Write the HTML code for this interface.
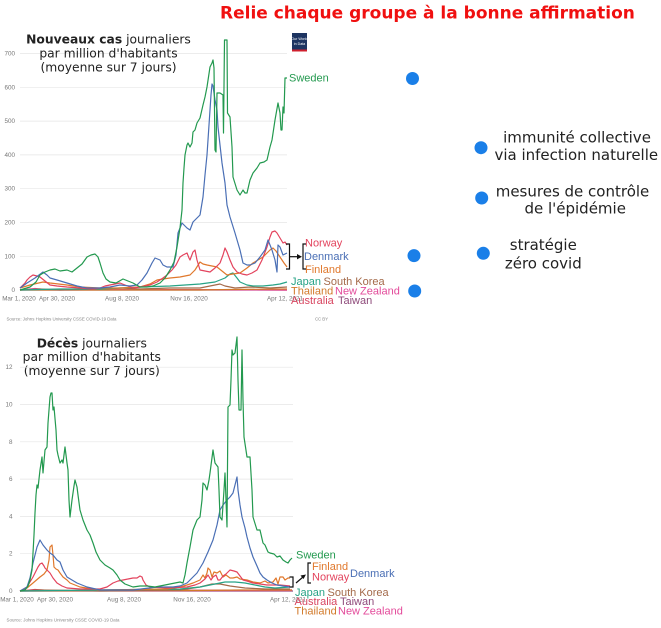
<!DOCTYPE html>
<html><head><meta charset="utf-8"><style>
html,body{margin:0;padding:0;background:#fff;}
svg{display:block;}
.tk{font-family:"Liberation Sans",sans-serif;font-size:6.3px;fill:#777;}
.src{font-family:"Liberation Sans",sans-serif;font-size:4.4px;fill:#888;}
.lb{font-family:"Liberation Sans",sans-serif;font-size:11px;}
.tt{font-family:"DejaVu Sans","Liberation Sans",sans-serif;font-size:12.3px;fill:#222;}
.rt{font-family:"DejaVu Sans","Liberation Sans",sans-serif;font-size:15px;fill:#222;}
.ln{fill:none;stroke-width:1.2;stroke-linejoin:round;}
</style></head><body>
<svg width="661" height="628" viewBox="0 0 661 628" xmlns="http://www.w3.org/2000/svg">
<rect width="661" height="628" fill="#fff"/>
<text x="220" y="18.5" font-family="DejaVu Sans, Liberation Sans, sans-serif" font-weight="bold" font-size="17" fill="#f01010">Relie chaque groupe à la bonne affirmation</text>

<!-- TOP CHART grid -->
<g stroke="#e6e6e6" stroke-width="0.7">
<line x1="20" y1="53.5" x2="287" y2="53.5"/>
<line x1="20" y1="87.3" x2="287" y2="87.3"/>
<line x1="20" y1="121.1" x2="287" y2="121.1"/>
<line x1="20" y1="154.9" x2="287" y2="154.9"/>
<line x1="20" y1="188.7" x2="287" y2="188.7"/>
<line x1="20" y1="222.5" x2="287" y2="222.5"/>
<line x1="20" y1="256.3" x2="287" y2="256.3"/>
</g>
<line x1="20" y1="290" x2="287" y2="290" stroke="#bbb" stroke-width="0.7"/>
<g class="tk" text-anchor="end">
<text x="15" y="55.5">700</text><text x="15" y="89.3">600</text><text x="15" y="123.1">500</text>
<text x="15" y="156.9">400</text><text x="15" y="190.7">300</text><text x="15" y="224.5">200</text>
<text x="15" y="258.3">100</text><text x="15" y="292">0</text>
</g>
<g class="tk" text-anchor="middle">
<text x="19" y="300.5">Mar 1, 2020</text><text x="57" y="300.5">Apr 30, 2020</text>
<text x="122" y="300.5">Aug 8, 2020</text><text x="189" y="300.5">Nov 16, 2020</text>
<text x="285" y="300.5">Apr 12, 2021</text>
</g>
<text class="src" x="6.5" y="320.5" textLength="110">Source: Johns Hopkins University CSSE COVID-19 Data</text>
<text class="src" x="315" y="320.5" textLength="13">CC BY</text>

<!-- OWID logo -->
<rect x="292" y="33" width="15" height="18.5" fill="#1d3461"/>
<rect x="292" y="49.5" width="15" height="2" fill="#d0202e"/>
<text x="299.5" y="40" font-family="Liberation Sans,sans-serif" font-size="3.6" fill="#fff" text-anchor="middle">Our World</text>
<text x="299.5" y="45" font-family="Liberation Sans,sans-serif" font-size="3.6" fill="#fff" text-anchor="middle">in Data</text>

<!-- top small series -->
<polyline class="ln" stroke="#8e4a7a" points="20,290 287,290"/>
<polyline class="ln" stroke="#d8445f" points="20,290 80,289 100,288.5 120,289.5 287,290"/>
<polyline class="ln" stroke="#e34a9a" points="20,290 35,288.5 45,289.5 287,290"/>
<polyline class="ln" stroke="#d27a2a" points="20,290 200,290 230,289.5 287,289"/>
<polyline class="ln" stroke="#a46a4a" points="20,290 40,289 60,290 100,289 120,288 140,289 170,288 200,288 215,285 220,284 225,286 235,288 250,287 270,288 287,287"/>
<polyline class="ln" stroke="#27a386" points="20,290 60,289 100,289 140,287 170,286 200,284 215,282 225,278 230,274 233,273 237,278 240,282 247,285 253,286 263,286 273,285 280,284 287,282"/>
<!-- Finland -->
<polyline class="ln" stroke="#e0782c" points="20,288 30,285 43,282 50,283 67,285 80,287 100,288 120,288 140,287 150,284 157,280 163,279 170,278 180,277 190,275 195,270 200,262 203,264 207,265 212,266 217,267 222,271 227,275 233,274 240,273 247,268 253,263 258,260 263,257 267,253 270,250 273,248 276,251 280,257 284,263 287,267"/>
<!-- Norway -->
<polyline class="ln" stroke="#e3435d" points="20,288 25,283 27,280 30,277 33,275 37,276 40,277 45,281 50,285 57,286 67,287 80,288 93,289 100,288 105,286 110,285 115,284 120,283 125,285 133,288 140,287 150,285 157,282 163,278 167,275 172,270 176,265 180,257 183,255 187,253 189,258 190,260 193,252 195,250 197,260 200,270 205,271 210,272 215,268 220,263 223,255 225,248 227,252 230,260 233,267 237,272 242,274 247,275 252,273 257,270 262,260 267,247 270,237 272,232 275,231 277,233 280,238 283,243 285,242 287,245"/>
<!-- Denmark -->
<polyline class="ln" stroke="#4a6fb5" points="20,288 27,283 35,278 43,272 47,275 50,278 57,280 67,283 77,286 87,288 100,288 110,287 120,285 130,286 137,285 142,280 147,273 152,263 155,258 160,260 163,265 167,267 173,267 176,255 178,233 182,223 187,228 190,230 193,222 197,218 200,215 203,197 205,175 207,155 209,125 211,95 212,84 213,86 215,100 217,110 218,127 220,145 222,163 225,183 227,205 230,217 235,233 240,250 243,263 247,265 250,265 255,263 260,257 265,250 268,240 270,245 272,250 275,260 277,272 278,245 280,247 283,255 287,253"/>
<!-- Sweden -->
<polyline class="ln" stroke="#23994f" points="20,290 30,287 36,282 40,275 45,272 50,270 55,269 60,271 67,270 72,272 77,268 82,264 87,257 91,255 95,254 97,256 98,257 100,263 103,273 106,279 110,282 116,283 123,279 128,281 133,283 140,287 147,287 153,286 160,283 165,278 170,270 174,262 177,247 180,228 182,210 183,183 184,168 185,155 187,145 188,143 190,147 192,143 193,132 195,130 197,123 200,118 203,105 205,97 207,87 210,67 212,63 213,60 214,68 215,150 216,152 217,93 220,93 223,95 223.5,133 224.5,40 227,40 227.5,113 230,117 232,147 233,177 237,190 240,195 243,190 245,193 247,193 250,180 253,173 257,168 260,163 264,162 267,160 270,147 272,140 275,120 278,103 280,113 281,130 282,130 283,107 284,113 285,78 287,78"/>

<!-- top labels -->
<text class="lb" x="289" y="81.5" fill="#23994f">Sweden</text>
<text class="lb" x="305" y="246.5" fill="#e3435d">Norway</text>
<text class="lb" x="304" y="260" fill="#4a6fb5">Denmark</text>
<text class="lb" x="305" y="273" fill="#e0782c">Finland</text>
<text class="lb" x="291" y="285" fill="#27a386">Japan</text>
<text class="lb" x="323.5" y="285" fill="#a46a4a">South Korea</text>
<text class="lb" x="291" y="294.5" fill="#d27a2a">Thailand</text>
<text class="lb" x="335" y="294.5" fill="#e34a9a">New Zealand</text>
<text class="lb" x="291" y="304" fill="#d8445f">Australia</text>
<text class="lb" x="338" y="304" fill="#8e4a7a">Taiwan</text>
<g fill="none" stroke="#111" stroke-width="1.2">
<path d="M286,244 H289.5 V269 H286"/>
<line x1="290" y1="256.7" x2="299" y2="256.7"/>
<path d="M306,244 H303 V269 H306"/>
</g>
<path d="M302,256.7 L297,254 L297,259.4 Z" fill="#111"/>

<!-- BOTTOM CHART -->
<text class="tt" x="91.8" y="347.3" text-anchor="middle"><tspan font-weight="bold">Décès</tspan> journaliers</text>
<text class="tt" x="91.8" y="361" text-anchor="middle">par million d'habitants</text>
<text class="tt" x="91.8" y="375" text-anchor="middle">(moyenne sur 7 jours)</text>
<text class="tt" x="108.5" y="43.3" text-anchor="middle"><tspan font-weight="bold">Nouveaux cas</tspan> journaliers</text>
<text class="tt" x="108.5" y="57.5" text-anchor="middle">par million d'habitants</text>
<text class="tt" x="108.5" y="71.7" text-anchor="middle">(moyenne sur 7 jours)</text>

<g stroke="#e6e6e6" stroke-width="0.7">
<line x1="20" y1="367.2" x2="293" y2="367.2"/>
<line x1="20" y1="404.5" x2="293" y2="404.5"/>
<line x1="20" y1="441.8" x2="293" y2="441.8"/>
<line x1="20" y1="479.1" x2="293" y2="479.1"/>
<line x1="20" y1="516.4" x2="293" y2="516.4"/>
<line x1="20" y1="553.7" x2="293" y2="553.7"/>
</g>
<line x1="20" y1="591" x2="293" y2="591" stroke="#bbb" stroke-width="0.7"/>
<g class="tk" text-anchor="end">
<text x="12.5" y="369.2">12</text><text x="12.5" y="406.5">10</text><text x="12.5" y="443.8">8</text>
<text x="12.5" y="481.1">6</text><text x="12.5" y="518.4">4</text><text x="12.5" y="555.7">2</text>
<text x="12.5" y="593">0</text>
</g>
<g class="tk" text-anchor="middle">
<text x="17" y="601.5">Mar 1, 2020</text><text x="55" y="601.5">Apr 30, 2020</text>
<text x="124" y="601.5">Aug 8, 2020</text><text x="192" y="601.5">Nov 16, 2020</text>
<text x="288" y="601.5">Apr 12, 2021</text>
</g>
<text class="src" x="6.5" y="621.5" textLength="113">Source: Johns Hopkins University CSSE COVID-19 Data</text>

<polyline class="ln" stroke="#8e4a7a" points="20,591 293,591"/>
<polyline class="ln" stroke="#e34a9a" points="20,591 292,590.5"/>
<polyline class="ln" stroke="#d8445f" points="20,591 35,589.5 50,590.5 292,590"/>
<polyline class="ln" stroke="#d27a2a" points="20,591 200,590.5 240,590 292,590"/>
<polyline class="ln" stroke="#a46a4a" points="20,591 40,590 100,591 180,590 200,587 212,584 220,584 230,586 245,588 265,589 290,589"/>
<polyline class="ln" stroke="#27a386" points="20,591 100,590 180,589 200,587 215,584 225,582 235,582 245,583 255,585 265,587 275,588 290,587"/>
<!-- Finland -->
<polyline class="ln" stroke="#e0782c" points="20,591 27,588 33,583 40,577 44,574 47,570 49,560 50,547 52,545 53,555 54,567 56,569 58,570 60,573 63,577 67,580 70,583 75,585 80,587 100,590 167,589 180,587 187,585 193,583 200,580 203,575 205,578 207,573 208,568 210,570 212,577 214,572 217,573 220,571 223,577 226,575 230,578 233,578 237,577 240,579 247,580 253,582 260,583 265,581 268,583 273,582 276,578 278,584 280,577 283,577 285,580 288,578 290,578"/>
<!-- Norway -->
<polyline class="ln" stroke="#e3435d" points="20,591 27,587 30,582 33,577 36,571 38,567 40,564 42,563 44,566 45,568 48,571 50,573 53,578 57,583 62,586 67,588 80,589 100,589 107,587 113,583 118,581 123,580 128,579 133,578 137,578 140,576 142,577 143,580 146,585 150,587 167,588 187,587 195,585 200,583 205,579 208,575 211,580 213,577 216,575 218,580 220,580 223,576 226,574 230,570 234,571 237,572 240,576 243,580 247,581 253,583 260,584 267,585 275,585 280,585 290,586"/>
<!-- Denmark -->
<polyline class="ln" stroke="#4a6fb5" points="20,591 27,587 30,578 33,563 35,555 37,547 40,540 43,545 47,550 50,553 53,555 57,560 60,562 63,570 67,577 72,580 77,583 87,587 100,590 133,590 157,587 173,587 180,586 187,583 192,578 197,573 203,563 208,552 213,540 217,525 220,510 223,505 227,500 230,497 233,493 235,485 237,477 238,490 240,505 242,517 245,528 247,537 250,548 253,557 257,566 260,573 263,577 267,580 272,583 277,585 283,586 290,587"/>
<!-- Sweden -->
<polyline class="ln" stroke="#23994f" points="20,591 25,590 28,586 30,580 32,570 33,553 34,535 35,513 36,495 37,485 38,488 40,470 42,457 43,473 45,450 47,447 48,423 50,397 51,393 52,393 53,410 54,407 56,430 57,450 58,455 60,463 62,460 63,463 65,447 67,463 68,470 69,500 70,517 72,500 74,486 75,480 77,487 78,495 80,510 83,520 87,530 90,535 93,543 96,552 100,560 105,565 110,568 113,570 117,575 120,580 125,584 133,587 140,586 147,586 155,587 160,586 170,584 180,582 183,583 185,575 187,563 190,547 193,530 195,525 197,520 200,517 202,500 203,483 205,485 207,490 209,480 210,473 213,450 215,463 218,467 219,490 220,517 222,520 224,490 225,473 226,500 227,527 228,407 230,405 231,380 232,350 233,355 235,353 237,337 238,380 239,410 241,410 242,350 243,400 244,437 247,457 250,457 252,490 253,517 257,530 260,530 263,543 265,545 268,552 270,553 274,554 277,557 280,556 283,560 286,562 288,563 290,560 292,558"/>

<!-- bottom labels -->
<text class="lb" x="296" y="558.5" fill="#23994f">Sweden</text>
<text class="lb" x="312" y="570" fill="#e0782c">Finland</text>
<text class="lb" x="312" y="580.5" fill="#e3435d">Norway</text>
<text class="lb" x="350" y="577" fill="#4a6fb5">Denmark</text>
<text class="lb" x="295" y="596" fill="#27a386">Japan</text>
<text class="lb" x="327.5" y="596" fill="#a46a4a">South Korea</text>
<text class="lb" x="294.5" y="605" fill="#d8445f">Australia</text>
<text class="lb" x="340" y="605" fill="#8e4a7a">Taiwan</text>
<text class="lb" x="294.5" y="614.5" fill="#d27a2a">Thailand</text>
<text class="lb" x="338" y="614.5" fill="#e34a9a">New Zealand</text>
<g fill="none" stroke="#111" stroke-width="1.2">
<path d="M289.5,577 H293 V587 H289.5"/>
<line x1="296" y1="583" x2="303" y2="577"/>
<path d="M311,563 H308 V583 H311"/>
</g>
<path d="M306,574.5 L300.5,575.5 L303.5,579 Z" fill="#111"/>

<!-- blue dots -->
<g fill="#1a7fe8">
<circle cx="412.5" cy="78.5" r="6.5"/>
<circle cx="481" cy="147.7" r="6.5"/>
<circle cx="481.7" cy="198" r="6.5"/>
<circle cx="414" cy="255.6" r="6.5"/>
<circle cx="483.3" cy="253.3" r="6.5"/>
<circle cx="414.7" cy="291" r="6.5"/>
</g>
<g class="rt" text-anchor="middle">
<text x="577" y="142.6">immunité collective</text>
<text x="576.3" y="160">via infection naturelle</text>
<text x="572.5" y="196.7">mesures de contrôle</text>
<text x="575.2" y="213.3">de l'épidémie</text>
<text x="543.3" y="250">stratégie</text>
<text x="543.3" y="268.3">zéro covid</text>
</g>
</svg>
</body></html>
